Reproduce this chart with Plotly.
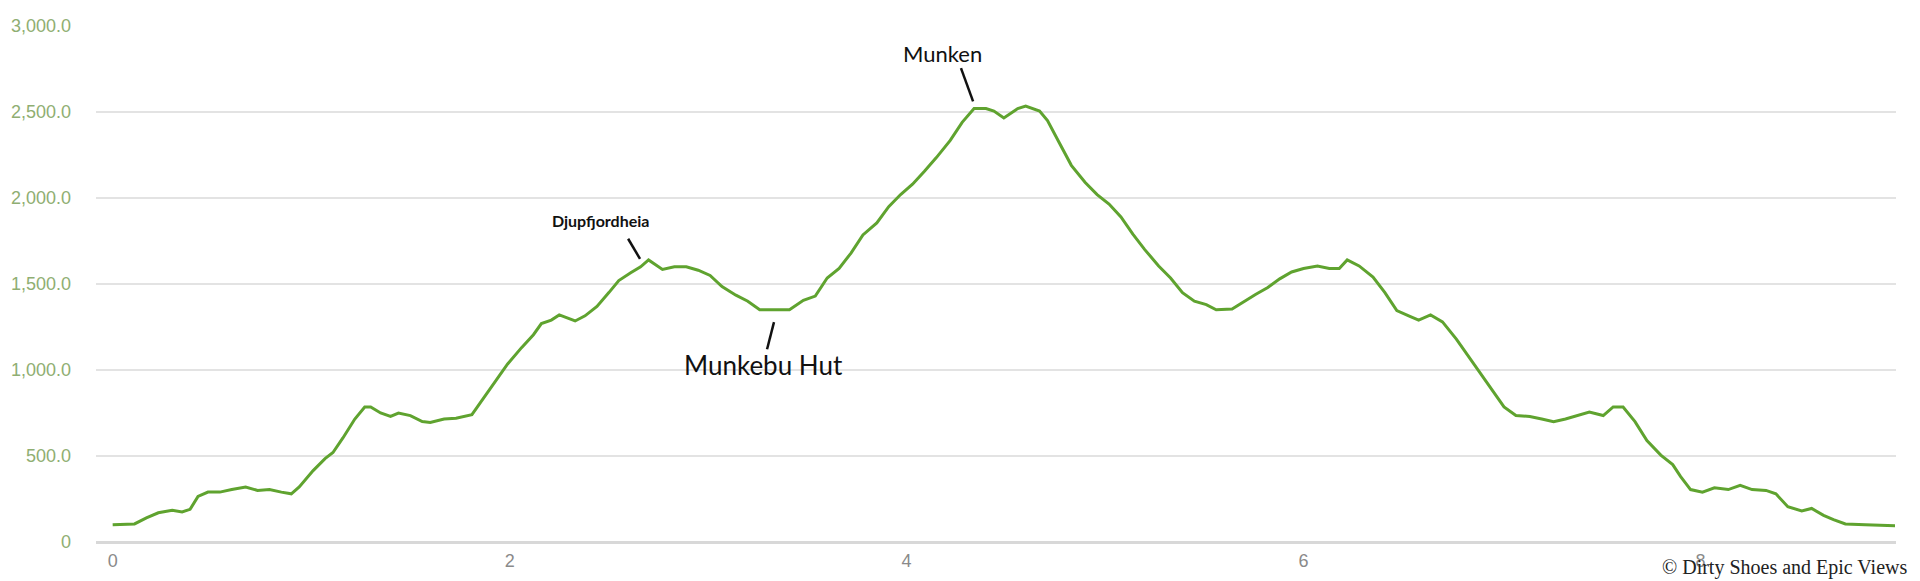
import plotly.graph_objects as go

# distance (km) and elevation (m)
distance = [0.00, 0.11, 0.17, 0.23, 0.30, 0.35, 0.39, 0.43, 0.48, 0.54, 0.60, 0.67, 0.73, 0.79, 0.85, 0.90,
            0.94, 1.01, 1.07, 1.11, 1.16, 1.22, 1.27, 1.30, 1.35, 1.40, 1.44, 1.50, 1.56, 1.60, 1.67, 1.73,
            1.81, 1.87, 1.93, 1.99, 2.06, 2.12, 2.16, 2.21, 2.25, 2.30, 2.33, 2.38, 2.44, 2.50, 2.55, 2.61,
            2.66, 2.70, 2.77, 2.83, 2.89, 2.95, 3.01, 3.07, 3.14, 3.20, 3.26, 3.32, 3.41, 3.48, 3.54, 3.60,
            3.66, 3.72, 3.78, 3.85, 3.91, 3.97, 4.03, 4.09, 4.15, 4.22, 4.28, 4.34, 4.40, 4.44, 4.49, 4.56,
            4.60, 4.67, 4.71, 4.77, 4.83, 4.90, 4.96, 5.02, 5.08, 5.14, 5.20, 5.27, 5.33, 5.39, 5.45, 5.51,
            5.56, 5.64, 5.70, 5.76, 5.82, 5.88, 5.94, 6.00, 6.07, 6.13, 6.18, 6.22, 6.28, 6.35, 6.41, 6.47,
            6.53, 6.58, 6.64, 6.70, 6.77, 6.83, 6.89, 6.95, 7.01, 7.07, 7.14, 7.20, 7.26, 7.32, 7.38, 7.44,
            7.51, 7.56, 7.61, 7.67, 7.73, 7.80, 7.86, 7.90, 7.95, 8.01, 8.07, 8.14, 8.20, 8.26, 8.33, 8.38,
            8.44, 8.51, 8.56, 8.62, 8.67, 8.73, 8.83, 8.98]
elevation = [100, 105, 140, 170, 185, 175, 190, 265, 290, 290, 305, 320, 300, 305, 290, 280,
             320, 415, 485, 520, 605, 715, 785, 785, 750, 730, 750, 735, 700, 695, 715, 720,
             740, 840, 935, 1035, 1130, 1205, 1270, 1290, 1320, 1300, 1285, 1315, 1370, 1450, 1520, 1565,
             1600, 1640, 1585, 1600, 1600, 1580, 1550, 1485, 1435, 1400, 1350, 1350, 1350, 1405, 1430, 1535,
             1590, 1680, 1785, 1855, 1950, 2020, 2080, 2155, 2235, 2335, 2440, 2520, 2520, 2505, 2465, 2520,
             2535, 2505, 2450, 2320, 2190, 2090, 2020, 1965, 1890, 1790, 1700, 1605, 1535, 1450, 1400, 1380,
             1350, 1355, 1400, 1440, 1480, 1530, 1570, 1590, 1605, 1590, 1590, 1640, 1605, 1540, 1450, 1345,
             1315, 1290, 1320, 1280, 1180, 1080, 985, 880, 785, 735, 730, 715, 700, 715, 735, 755,
             735, 785, 785, 700, 590, 505, 450, 380, 305, 290, 315, 305, 330, 305, 300, 280,
             205, 180, 195, 155, 130, 105, 100, 95]

x_ticks = [0, 2, 4, 6, 8]
y_ticks = [0, 500, 1000, 1500, 2000, 2500, 3000]
y_tick_text = ["0", "500.0", "1,000.0", "1,500.0", "2,000.0", "2,500.0", "3,000.0"]

# labelled places: name, label x/y, pointer start and end
labels = ["Djupfjordheia", "Munken", "Munkebu Hut"]
label_x = [2.456, 4.183, 3.277]
label_y = [1868, 2840, 1030]
label_size = [16, 22, 26]
label_bold = [True, False, False]
ptr_x0 = [2.597, 4.274, 3.332]
ptr_y0 = [1763, 2755, 1278]
ptr_x1 = [2.657, 4.335, 3.297]
ptr_y1 = [1646, 2562, 1121]

fig = go.Figure()
fig.add_trace(go.Scatter(
    x=distance, y=elevation, mode="lines",
    line=dict(color="#5fa32f", width=3),
    hoverinfo="skip", showlegend=False,
))

for i, name in enumerate(labels):
    fig.add_annotation(
        x=label_x[i], y=label_y[i], xref="x", yref="y",
        text=f"<b>{name}</b>" if label_bold[i] else name,
        showarrow=False,
        font=dict(family="Lato, Open Sans, sans-serif", size=label_size[i], color="#111111"),
    )
    fig.add_shape(
        type="line", xref="x", yref="y",
        x0=ptr_x0[i], y0=ptr_y0[i], x1=ptr_x1[i], y1=ptr_y1[i],
        line=dict(color="#111111", width=2.5),
    )

fig.add_annotation(
    x=0.869, y=0, xref="paper", yref="paper", xanchor="left", yanchor="middle",
    yshift=-25,
    text="© Dirty Shoes and Epic Views", showarrow=False,
    font=dict(family="Liberation Serif, DejaVu Serif, serif", size=20, color="#222222"),
)

fig.update_layout(
    width=1912, height=573,
    margin=dict(l=88, r=24, t=18, b=39, autoexpand=False),
    paper_bgcolor="white", plot_bgcolor="white",
    xaxis=dict(
        range=[-0.084, 8.985], tickvals=x_ticks, ticktext=[str(v) for v in x_ticks],
        showgrid=False, zeroline=False, showline=False, ticks="",
        tickfont=dict(family="Liberation Sans Narrow, Liberation Sans, Arial", size=18, color="#8a8a8a"),
        ticklabelstandoff=6, automargin=False,
    ),
    yaxis=dict(
        range=[0, 3000], tickvals=y_ticks, ticktext=y_tick_text,
        showgrid=True, gridcolor="#e3e3e3", gridwidth=1.5,
        zeroline=True, zerolinecolor="#d8d8d8", zerolinewidth=2.5,
        showline=False, ticks="",
        tickfont=dict(family="Liberation Sans, Arial", size=18, color="#8fae72"),
        ticklabelstandoff=24, automargin=False,
    ),
)

fig.write_html("out.html")
